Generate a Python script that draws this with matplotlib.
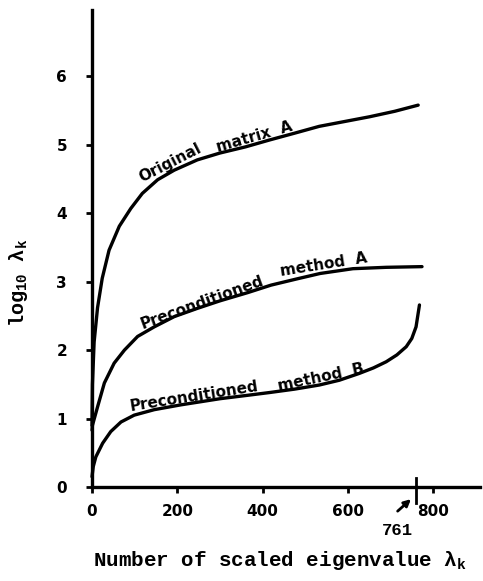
import matplotlib
matplotlib.use("Agg")
import matplotlib.pyplot as plt

# --- Data ---
orig_x = [0, 1, 5, 13, 24, 40, 64, 91, 118, 154, 193, 247, 300, 360, 416, 475,
          533, 592, 651, 710, 765]
orig_y = [0.9, 1.5, 2.12, 2.62, 3.05, 3.46, 3.81, 4.07, 4.29, 4.49, 4.63, 4.78,
          4.88, 4.97, 5.07, 5.17, 5.27, 5.34, 5.41, 5.49, 5.58]

preA_x = [0, 1, 13, 29, 52, 76, 107, 146, 193, 247, 300, 365, 420, 480, 535,
          612, 690, 774]
preA_y = [0.83, 0.9, 1.17, 1.52, 1.81, 2.00, 2.20, 2.34, 2.49, 2.61, 2.72, 2.84,
          2.95, 3.04, 3.12, 3.19, 3.21, 3.22]

preB_x = [0, 3, 9, 25, 44, 68, 99, 146, 208, 300, 365, 416, 475, 533, 580, 627,
          660, 690, 715, 737, 750, 760, 768]
preB_y = [0.15, 0.3, 0.44, 0.64, 0.81, 0.95, 1.05, 1.13, 1.20, 1.29, 1.34, 1.38,
          1.43, 1.49, 1.56, 1.66, 1.74, 1.83, 1.93, 2.05, 2.17, 2.34, 2.66]

xticks = [0, 200, 400, 600, 800]
yticks = [0, 1, 2, 3, 4, 5, 6]

plt.rcParams["mathtext.fontset"] = "custom"
plt.rcParams["mathtext.rm"] = "Liberation Mono:bold"
plt.rcParams["mathtext.it"] = "Liberation Mono:bold"

fig = plt.figure(figsize=(4.83, 5.81), dpi=100)
ax = fig.add_axes([92 / 483, 94 / 581, 388 / 483, 477 / 581])

for xs, ys in [(orig_x, orig_y), (preA_x, preA_y), (preB_x, preB_y)]:
    ax.plot(xs, ys, color="black", linewidth=2.4, solid_capstyle="round",
            solid_joinstyle="round", clip_on=False)

ax.set_xlim(0, 910)
ax.set_ylim(0, 6.97)
for s in ["top", "right"]:
    ax.spines[s].set_visible(False)
for s in ["left", "bottom"]:
    ax.spines[s].set_linewidth(2.4)

ax.set_xticks(xticks)
ax.set_yticks(yticks)
ax.tick_params(direction="out", length=4, width=2)
ax.tick_params(axis="x", pad=8)
ax.tick_params(axis="y", pad=14)
for lab in ax.get_xticklabels() + ax.get_yticklabels():
    lab.set_fontweight("bold")
    lab.set_fontsize(11)

# curve labels
lbl = dict(fontsize=11, fontweight="bold", ha="center", va="center",
           rotation_mode="anchor")
ax.text(182, 4.74, "Original", rotation=27, **lbl)
ax.text(380, 5.12, "matrix  A", rotation=16, **lbl)
ax.text(258, 2.70, "Preconditioned", rotation=20, **lbl)
ax.text(544, 3.25, "method  A", rotation=9, **lbl)
ax.text(239, 1.33, "Preconditioned", rotation=9, **lbl)
ax.text(537, 1.60, "method  B", rotation=12, **lbl)

# marker at 761
ax.plot([761, 761], [0.13, -0.23], color="black", linewidth=2, clip_on=False)
ax.annotate("", xy=(753, -0.15), xytext=(712, -0.38), annotation_clip=False,
            arrowprops=dict(arrowstyle="-|>", color="black", lw=2, mutation_scale=10))
ax.text(717, -0.63, "761", ha="center", va="center", fontsize=12.5,
        fontweight="bold", family="Liberation Mono", clip_on=False)

ax.set_xlabel(r"Number of scaled eigenvalue $\lambda_k$", family="Liberation Mono",
              fontweight="bold", fontsize=15)
ax.xaxis.set_label_coords(0.485, -0.13)
ax.set_ylabel(r"log$_{10}$ $\lambda_k$", family="Liberation Mono",
              fontweight="bold", fontsize=14.5)
ax.yaxis.set_label_coords(-0.16, 0.428)

fig.savefig("out.png", dpi=100)
